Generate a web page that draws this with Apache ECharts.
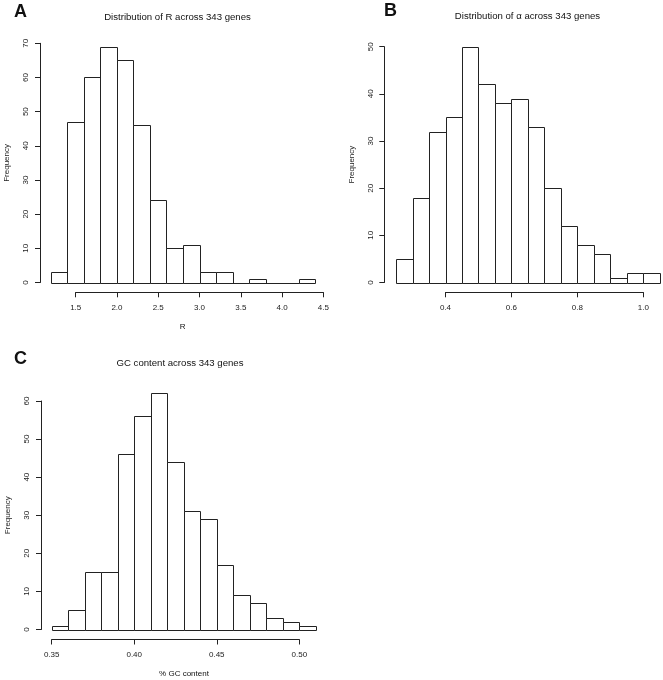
<!DOCTYPE html>
<html>
<head>
<meta charset="utf-8">
<script src="https://cdn.jsdelivr.net/npm/echarts@6/dist/echarts.min.js"></script>
<style>
html,body{margin:0;padding:0;background:#fff;}
#chart{width:663px;height:680px;}
</style>
</head>
<body>
<div id="chart"></div>
<script>
// ---- Data ----
const rEdges = [1.2,1.4,1.6,1.8,2.0,2.2,2.4,2.6,2.8,3.0,3.2,3.4,3.6,3.8,4.0,4.2,4.4];
const rCounts = [3,47,60,69,65,46,24,10,11,3,3,0,1,0,0,1];
const aEdges = [0.25,0.30,0.35,0.40,0.45,0.50,0.55,0.60,0.65,0.70,0.75,0.80,0.85,0.90,0.95,1.00,1.05];
const aCounts = [5,18,32,35,50,42,38,39,33,20,12,8,6,1,2,2];
const gcEdges = [0.35,0.36,0.37,0.38,0.39,0.40,0.41,0.42,0.43,0.44,0.45,0.46,0.47,0.48,0.49,0.50,0.51];
const gcCounts = [1,5,15,15,46,56,62,44,31,29,17,9,7,3,2,1];

const titleA = 'Distribution of R across 343 genes';
const titleB = 'Distribution of \u03b1 across 343 genes';
const titleC = 'GC content across 343 genes';
const xNameA = 'R';
const xNameC = '% GC content';
const yName = 'Frequency';

const FONT = '"Liberation Sans", Arial, Helvetica, sans-serif';
const INK = '#222';

function toBins(edges, counts){
  return counts.map((c,i)=>[edges[i], edges[i+1], c]);
}

function renderItem(params, api){
  const p0 = api.coord([api.value(0), 0]);
  const p1 = api.coord([api.value(1), api.value(2)]);
  const x0 = Math.round(p0[0]) + 0.5, x1 = Math.round(p1[0]) + 0.5;
  const y0 = Math.round(p0[1]) + 0.5, y1 = Math.round(p1[1]) + 0.5;
  if (y0 - y1 < 1) {
    // empty bin: only the bottom edge, as a 1px filled strip
    return {
      type: 'rect',
      shape: {x: x0 - 0.5, y: y0 - 0.5, width: x1 - x0 + 1, height: 1},
      style: {fill: INK, stroke: null}
    };
  }
  return {
    type: 'rect',
    shape: {x: x0, y: y1, width: x1 - x0, height: y0 - y1},
    style: {fill: '#fff', stroke: INK, lineWidth: 1}
  };
}

function xAxisCfg(grid, min, max, interval, digits, offset){
  return {
    type: 'value', gridIndex: grid, min: min, max: max, interval: interval,
    offset: offset, position: 'bottom',
    axisLine: {show: true, onZero: false, lineStyle: {color: INK, width: 1}},
    axisTick: {show: true, length: 5, lineStyle: {color: INK}},
    splitLine: {show: false},
    axisLabel: {fontFamily: FONT, fontSize: 8, color: '#222', margin: 11,
      formatter: v => Number(v).toFixed(digits), showMinLabel: true, showMaxLabel: true}
  };
}
function yAxisCfg(grid, max, offset){
  return {
    type: 'value', gridIndex: grid, min: 0, max: max, interval: 10,
    offset: offset, position: 'left',
    name: yName, nameLocation: 'middle', nameGap: 29,
    nameTextStyle: {fontFamily: FONT, fontSize: 8, color: '#222'},
    axisLine: {show: true, onZero: false, lineStyle: {color: INK, width: 1}},
    axisTick: {show: true, length: 5, lineStyle: {color: INK}},
    splitLine: {show: false},
    axisLabel: {fontFamily: FONT, fontSize: 8, color: '#222', margin: 10, rotate: 90,
      showMinLabel: true, showMaxLabel: true}
  };
}

function txt(text, x, y, size, bold){
  return {type: 'text', x: x, y: y, silent: true,
    style: {text: text, font: (bold ? 'bold ' : '') + size + 'px ' + FONT, fill: '#111',
      textAlign: bold ? 'left' : 'center', textVerticalAlign: 'middle'}};
}

const chart = echarts.init(document.getElementById('chart'), null, {renderer: 'canvas'});
chart.setOption({
  animation: false,
  backgroundColor: '#fff',
  grid: [
    {left: 75.7, right: 339.7, top: 43.3, bottom: 397.5},
    {left: 445.5, right: 19.7, top: 46.7, bottom: 397.5},
    {left: 51.7, right: 363.7, top: 401, bottom: 50.5}
  ],
  xAxis: [
    xAxisCfg(0, 1.5, 4.5, 0.5, 1, 9.8),
    xAxisCfg(1, 0.4, 1.0, 0.2, 1, 9.8),
    xAxisCfg(2, 0.35, 0.50, 0.05, 2, 10)
  ],
  yAxis: [
    yAxisCfg(0, 70, 35.7),
    yAxisCfg(1, 50, 61.2),
    yAxisCfg(2, 60, 10.7)
  ],
  series: [
    {type: 'custom', xAxisIndex: 0, yAxisIndex: 0, renderItem: renderItem, clip: false,
      encode: {x: [0,1], y: 2}, data: toBins(rEdges, rCounts)},
    {type: 'custom', xAxisIndex: 1, yAxisIndex: 1, renderItem: renderItem, clip: false,
      encode: {x: [0,1], y: 2}, data: toBins(aEdges, aCounts)},
    {type: 'custom', xAxisIndex: 2, yAxisIndex: 2, renderItem: renderItem, clip: false,
      encode: {x: [0,1], y: 2}, data: toBins(gcEdges, gcCounts)}
  ],
  graphic: [
    txt('A', 14, 12, 18, true),
    txt('B', 384, 11, 18, true),
    txt('C', 14, 359, 18, true),
    txt(titleA, 177.5, 17, 9.6, false),
    txt(titleB, 527.5, 16, 9.6, false),
    txt(titleC, 180, 363.3, 9.6, false),
    txt(xNameA, 182.7, 326.7, 8, false),
    txt(xNameC, 184, 673.8, 8, false)
  ]
});
</script>
</body>
</html>
